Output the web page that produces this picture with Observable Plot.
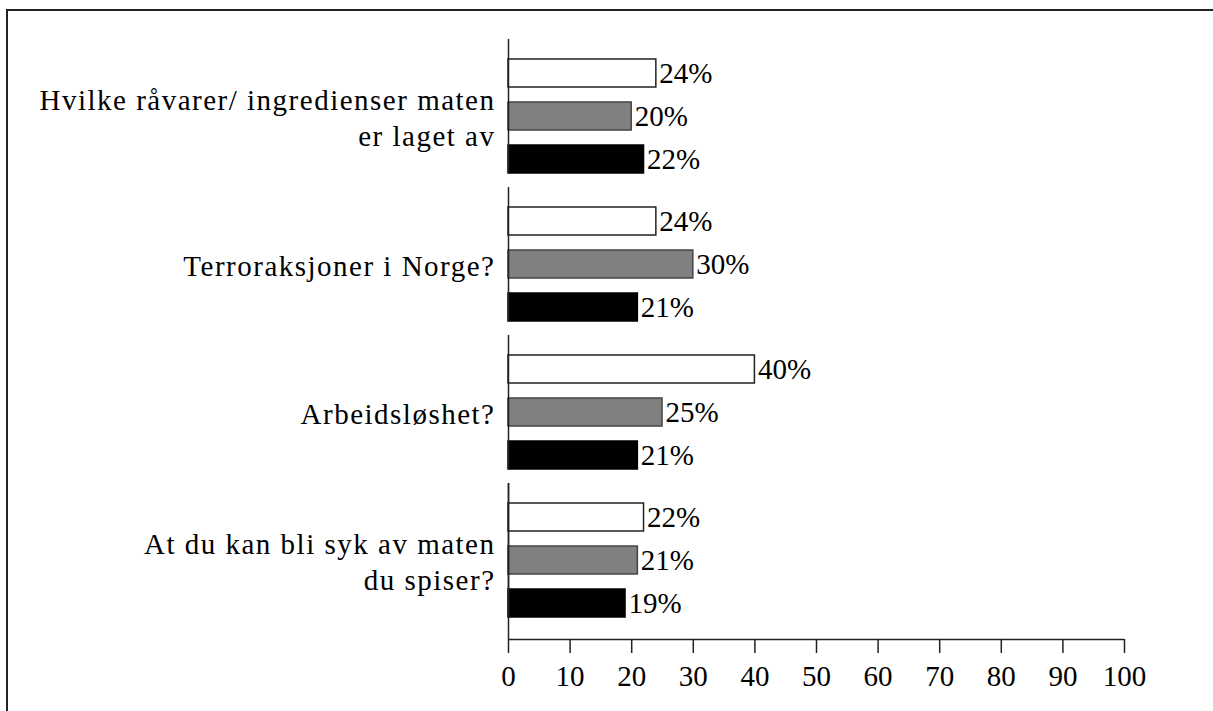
<!DOCTYPE html>
<html>
<head>
<meta charset="utf-8">
<script src="https://cdn.jsdelivr.net/npm/d3@7"></script>
<script src="https://cdn.jsdelivr.net/npm/@observablehq/plot@0.6"></script>
<style>
  html, body { margin: 0; padding: 0; background: #fff; overflow: hidden; }
  #wrap { position: relative; width: 1213px; height: 711px; overflow: hidden; }
  #border { position: absolute; left: 6px; top: 9px; width: 1300px; height: 800px; border: 2px solid #222; box-sizing: border-box; pointer-events: none; }
  #chart { position: absolute; left: 0; top: 0; }
  #chart svg, #chart svg text { font-family: "Liberation Serif", "Times New Roman", serif !important; }
  #chart g[text-anchor="end"] text { letter-spacing: 1.5px; }
</style>
</head>
<body>
<div id="wrap"><div id="chart"></div><div id="border"></div></div>
<script>
const categories = [
  "Hvilke råvarer/ ingredienser maten\ner laget av",
  "Terroraksjoner i Norge?",
  "Arbeidsløshet?",
  "At du kan bli syk av maten\ndu spiser?"
];
const series = ["hvit", "grå", "svart"];
const valuesWhite = [24, 24, 40, 22];
const valuesGray = [20, 30, 25, 21];
const valuesBlack = [22, 21, 21, 19];
const xTicks = [0, 10, 20, 30, 40, 50, 60, 70, 80, 90, 100];

const fills = {"hvit": "#ffffff", "grå": "#808080", "svart": "#000000"};
const strokes = {"hvit": "#222222", "grå": "#444444", "svart": "#000000"};

const rows = [];
categories.forEach((q, i) => {
  rows.push({q, s: series[0], v: valuesWhite[i]});
  rows.push({q, s: series[1], v: valuesGray[i]});
  rows.push({q, s: series[2], v: valuesBlack[i]});
});
const labelRows = categories.map(q => ({q, s: series[1]}));
const lastRow = [{q: categories[categories.length - 1], s: series[2]}];

const font = "Liberation Serif";

const chart = Plot.plot({
  width: 1213,
  height: 711,
  marginLeft: 508,
  marginRight: 89,
  marginTop: 38,
  marginBottom: 94,
  style: {fontFamily: font, fontSize: "29px", color: "#000", background: "transparent"},
  x: {domain: [0, 100], axis: null, label: null},
  y: {domain: series, axis: null, paddingInner: 0.34, paddingOuter: 0.228, align: 1},
  fy: {domain: categories, axis: null, paddingInner: 0.096, paddingOuter: 0},
  marks: [
    Plot.barX(rows, {
      fy: "q", y: "s", x: "v",
      fill: d => fills[d.s], stroke: d => strokes[d.s], strokeWidth: 1.5
    }),
    Plot.text(rows, {
      fy: "q", y: "s", x: "v", text: d => d.v + "%",
      textAnchor: "start", dx: 3, fontSize: 29, fontFamily: font, fill: "#000"
    }),
    Plot.text(labelRows, {
      fy: "q", y: "s", x: () => 0, text: "q",
      textAnchor: "end", dx: -13, lineHeight: 1.25, fontSize: 29, fontFamily: font, fill: "#000"
    }),
    Plot.ruleX([0], {stroke: "#222", strokeWidth: 1.5}),
    Plot.ruleX(lastRow, {fy: "q", x: () => 0, insetBottom: -22, stroke: "#222", strokeWidth: 1.5}),
    Plot.ruleY(lastRow, {fy: "q", y: "s", dy: 36, stroke: "#222", strokeWidth: 1.5}),
    Plot.axisX({
      ticks: xTicks, tickFormat: d => String(d), dy: 22, tickSize: 14, tickPadding: 12,
      label: null, fontSize: 29, fontFamily: font, stroke: "#222", strokeWidth: 1.5, fill: "#000"
    })
  ]
});
document.getElementById("chart").appendChild(chart);
</script>
</body>
</html>
